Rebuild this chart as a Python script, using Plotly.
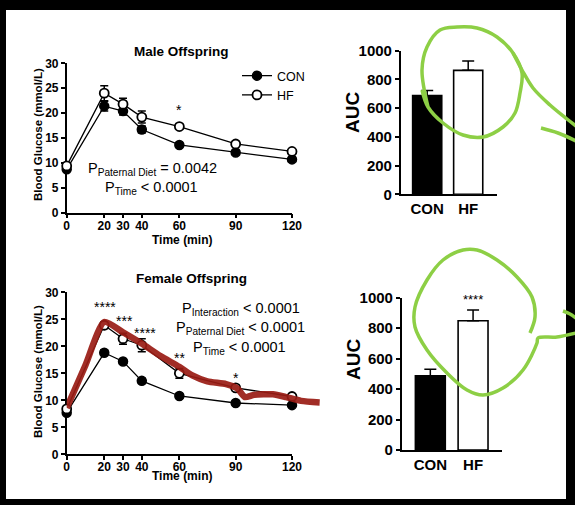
import plotly.graph_objects as go

# -----------------------------
# Data
# -----------------------------
time_min = [0, 20, 30, 40, 60, 90, 120]
time_ticks = [0, 20, 30, 40, 60, 90, 120]

male_con = [8.7, 21.4, 20.4, 16.7, 13.6, 12.1, 10.7]
male_con_sem = [0.3, 1.0, 0.8, 0.7, 0.4, 0.4, 0.4]
male_hf = [9.4, 24.0, 21.8, 19.2, 17.3, 13.8, 12.3]
male_hf_sem = [0.4, 1.5, 1.2, 1.2, 0.5, 0.5, 0.4]

female_con = [7.7, 18.8, 17.2, 13.6, 10.8, 9.5, 9.1]
female_con_sem = [0.4, 0.5, 0.5, 0.5, 0.4, 0.4, 0.4]
female_hf = [8.4, 23.9, 21.4, 20.2, 15.0, 12.3, 10.7]
female_hf_sem = [0.4, 0.6, 1.0, 1.2, 0.9, 0.5, 0.5]

groups = ["CON", "HF"]
male_auc = [687, 863]
male_auc_sem = [35, 65]
female_auc = [488, 849]
female_auc_sem = [42, 70]

# significance stars (x, y, label)
male_star_x = [60]
male_star_y = [20.6]
male_star_txt = ["*"]
female_star_x = [20.4, 30.6, 41.8, 60, 90]
female_star_y = [27.2, 24.6, 22.5, 17.8, 14.2]
female_star_txt = ["****", "***", "****", "**", "*"]

# hand-drawn red trace over the female HF curve (data units)
red_x = [0, 10, 20, 30, 40, 50, 60, 67, 75, 85, 91, 95, 100, 110, 117, 125, 135]
red_y = [8.6, 16.5, 24.5, 22.6, 20.5, 18.2, 16.2, 14.6, 13.5, 13.0, 12.2, 10.6, 11.0, 11.1, 10.6, 9.9, 9.6]

# hand-drawn green strokes (page pixels)
green_top_x = [428, 422, 427, 440, 457, 477, 497, 513, 522, 520, 515, 503, 483, 463, 443, 428, 422]
green_top_y = [107, 70, 47, 30, 27, 28, 37, 53, 73, 93, 113, 127, 137, 135, 123, 107, 90]
green_tail1_x = [513, 522, 533, 550, 567, 576]
green_tail1_y = [53, 70, 88, 105, 119, 126]
green_tail2_x = [541, 558, 576]
green_tail2_y = [128, 133, 141]
green_bot_x = [530, 535, 532, 517, 497, 477, 463, 443, 427, 415, 415, 427, 447, 467, 483, 503, 523, 537, 538, 557, 576]
green_bot_y = [333, 317, 297, 277, 260, 250, 250, 260, 280, 307, 327, 350, 373, 390, 395, 388, 370, 343, 338, 337, 333]
green_tick_x = [563, 570, 576]
green_tick_y = [311, 314, 318]

W, H = 575, 505
FONT = "Liberation Sans"
RED = "#9a1c14"
GREEN = "#8dcf45"


def px(x):
    return x / W


def py(y):
    return 1 - y / H


fig = go.Figure()

# -----------------------------
# Glucose tolerance curves
# -----------------------------
def add_gtt(xa, ya, con, con_sem, hf, hf_sem, legend):
    fig.add_trace(go.Scatter(
        x=time_min, y=con, name="CON", mode="lines+markers",
        xaxis=xa, yaxis=ya, showlegend=legend, cliponaxis=False,
        line=dict(color="black", width=1.3),
        marker=dict(symbol="circle", size=9, color="black",
                    line=dict(color="black", width=1.5)),
        error_y=dict(type="data", array=con_sem, color="black",
                     thickness=1.5, width=4),
    ))
    fig.add_trace(go.Scatter(
        x=time_min, y=hf, name="HF", mode="lines+markers",
        xaxis=xa, yaxis=ya, showlegend=legend, cliponaxis=False,
        line=dict(color="black", width=1.3),
        marker=dict(symbol="circle", size=9, color="white",
                    line=dict(color="black", width=1.8)),
        error_y=dict(type="data", array=hf_sem, color="black",
                     thickness=1.5, width=4),
    ))


add_gtt("x", "y", male_con, male_con_sem, male_hf, male_hf_sem, True)
add_gtt("x2", "y2", female_con, female_con_sem, female_hf, female_hf_sem, False)

# -----------------------------
# AUC bars
# -----------------------------
def add_auc(xa, ya, vals, sem, width):
    fig.add_trace(go.Bar(
        x=[0, 1], y=vals, xaxis=xa, yaxis=ya, width=width,
        showlegend=False,
        marker=dict(color=["black", "white"], line=dict(color="black", width=1.6)),
        error_y=dict(type="data", array=sem, arrayminus=[0, 0], symmetric=False,
                     color="black", thickness=1.5, width=6),
    ))


add_auc("x3", "y3", male_auc, male_auc_sem, 0.71)
add_auc("x4", "y4", female_auc, female_auc_sem, 0.70)

# -----------------------------
# Hand-drawn marks
# -----------------------------
fig.add_trace(go.Scatter(
    x=red_x, y=red_y, xaxis="x5", yaxis="y5", mode="lines", showlegend=False,
    line=dict(color=RED, width=6.5, shape="spline", smoothing=0.6), opacity=0.92,
))
for gx, gy in [(green_top_x, green_top_y), (green_tail1_x, green_tail1_y),
               (green_tail2_x, green_tail2_y), (green_bot_x, green_bot_y),
               (green_tick_x, green_tick_y)]:
    fig.add_trace(go.Scatter(
        x=gx, y=gy, xaxis="x6", yaxis="y6", mode="lines", showlegend=False,
        line=dict(color=GREEN, width=3.5, shape="spline", smoothing=1.0),
    ))

# -----------------------------
# Axes
# -----------------------------
axis_common = dict(
    showline=True, linecolor="black", linewidth=1.5, mirror=False,
    ticks="outside", ticklen=4, tickwidth=1.5, tickcolor="black",
    showgrid=False, zeroline=False, layer="below traces", automargin=False,
    tickfont=dict(family=FONT, size=12, color="black", weight="bold"),
)
hidden = dict(visible=False, automargin=False, showgrid=False, zeroline=False)
bar_font = dict(family=FONT, size=15, color="black", weight="bold")

gtt_x_dom = [px(66.7), px(292)]
male_y_dom = [py(212.7), py(63.3)]
female_y_dom = [py(454.3), py(292.3)]

fig.update_layout(
    xaxis=dict(axis_common, domain=gtt_x_dom, range=[0, 120], tickvals=time_ticks,
               ticklabelstandoff=-3, anchor="y"),
    yaxis=dict(axis_common, domain=male_y_dom, range=[0, 30], dtick=5, anchor="x"),
    xaxis2=dict(axis_common, domain=gtt_x_dom, range=[0, 120], tickvals=time_ticks,
                ticklabelstandoff=-3, anchor="y2"),
    yaxis2=dict(axis_common, domain=female_y_dom, range=[0, 30], dtick=5, anchor="x2"),
    xaxis3=dict(axis_common, domain=[px(400.7), px(496.7)], range=[-0.646, 1.695],
                tickvals=[0, 1], ticktext=groups, ticks="", anchor="y3", tickfont=bar_font),
    yaxis3=dict(axis_common, domain=[py(194.3), py(50.7)], range=[0, 1000], dtick=200,
                anchor="x3", tickfont=bar_font),
    xaxis4=dict(axis_common, domain=[px(401.7), px(501.7)], range=[-0.67, 1.67],
                tickvals=[0, 1], ticktext=groups, ticks="", anchor="y4", tickfont=bar_font),
    yaxis4=dict(axis_common, domain=[py(450), py(297.7)], range=[0, 1000], dtick=200,
                anchor="x4", tickfont=bar_font),
    # overlay for the red stroke: same scale as the female panel, running past 120 min
    xaxis5=dict(hidden, domain=[px(66.7), px(66.7 + 225 * 135 / 120)], range=[0, 135], anchor="y5"),
    yaxis5=dict(hidden, domain=female_y_dom, range=[0, 30], anchor="x5"),
    # overlay for the green strokes: page pixels
    xaxis6=dict(hidden, domain=[0, 1], range=[0, W], anchor="y6"),
    yaxis6=dict(hidden, domain=[0, 1], range=[H, 0], anchor="x6"),
)

# -----------------------------
# Text
# -----------------------------
ann = []


def text(x, y, s, size, bold=False, angle=0):
    ann.append(dict(
        x=px(x), y=py(y), xref="paper", yref="paper", text=s, showarrow=False,
        textangle=angle, xanchor="center", yanchor="middle",
        font=dict(family=FONT, size=size, color="black", weight="bold" if bold else "normal"),
    ))


text(181, 51.5, "Male Offspring", 13.5, bold=True)
text(191, 278.3, "Female Offspring", 13.5, bold=True)
text(38, 135, "Blood Glucose (mmol/L)", 11.5, bold=True, angle=-90)
text(38, 372, "Blood Glucose (mmol/L)", 11.5, bold=True, angle=-90)
text(181.5, 240, "Time (min)", 12, bold=True)
text(181.5, 476, "Time (min)", 12, bold=True)
text(353, 113, "AUC", 19, bold=True, angle=-90)
text(353, 360, "AUC", 19, bold=True, angle=-90)

text(152, 169, "P<sub>Paternal Diet</sub> = 0.0042", 14.5)
text(151.3, 187.5, "P<sub>Time</sub> < 0.0001", 14.5)
text(240.5, 309, "P<sub>Interaction</sub> < 0.0001", 14.5)
text(240.8, 327.5, "P<sub>Paternal Diet</sub> < 0.0001", 14.5)
text(239.7, 347.5, "P<sub>Time</sub> < 0.0001", 14.5)

for sx, sy, st in zip(male_star_x, male_star_y, male_star_txt):
    ann.append(dict(x=sx, y=sy, xref="x", yref="y", text=st, showarrow=False,
                    font=dict(family=FONT, size=14, color="black")))
for sx, sy, st in zip(female_star_x, female_star_y, female_star_txt):
    ann.append(dict(x=sx, y=sy, xref="x2", yref="y2", text=st, showarrow=False,
                    font=dict(family=FONT, size=14, color="black")))
ann.append(dict(x=1, y=1010, xref="x3", yref="y3", text="*", showarrow=False,
                font=dict(family=FONT, size=14, color="black")))
ann.append(dict(x=1, y=985, xref="x4", yref="y4", text="****", showarrow=False,
                font=dict(family=FONT, size=13, color="black")))

fig.update_layout(
    width=W, height=H,
    margin=dict(l=0, r=0, t=0, b=0, pad=0),
    paper_bgcolor="black",
    plot_bgcolor="rgba(0,0,0,0)",
    font=dict(family=FONT, color="black"),
    annotations=ann,
    showlegend=True,
    legend=dict(x=px(237), y=py(61), xanchor="left", yanchor="top",
                bgcolor="rgba(0,0,0,0)", font=dict(family=FONT, size=12.5, color="black"),
                tracegroupgap=0, itemwidth=30),
    shapes=[dict(type="rect", xref="paper", yref="paper", layer="below",
                 x0=px(6), x1=px(566), y0=py(499), y1=py(10),
                 fillcolor="white", line=dict(width=0))],
)

# page body margin would push the figure 8px off the window
fig.write_html("out.html", config={"displayModeBar": False},
               post_script="document.body.style.margin='0';")
